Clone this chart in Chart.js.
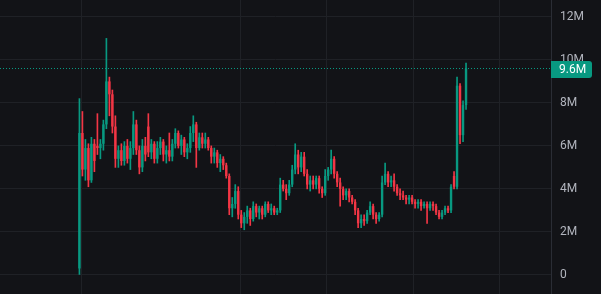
<!DOCTYPE html>
<html>
<head>
<meta charset="utf-8">
<script src="https://cdn.jsdelivr.net/npm/chart.js@4/dist/chart.umd.min.js"></script>
<style>
  html, body { margin: 0; padding: 0; background: #121317; }
  canvas { display: block; }
</style>
</head>
<body>
<canvas id="chart" width="601" height="294"></canvas>
<script>
// candle values, in millions
var opens = [
  0.3, 6.6, 4.9, 5.9, 4.4, 6.1, 6.0, 5.9, 6.1, 7.0,
  9.0, 8.4, 6.9, 5.4, 5.8, 5.3, 6.0, 5.4, 5.9, 7.0,
  5.8, 5.0, 6.0, 6.9, 5.7, 6.1, 5.4, 5.9, 6.2, 5.6,
  5.8, 5.5, 6.1, 6.6, 6.0, 6.3, 5.7, 5.9, 6.6, 7.0,
  5.9, 6.4, 6.1, 6.3, 5.9, 5.5, 5.7, 5.2, 5.4, 5.1,
  4.6, 3.1, 3.3, 3.9, 2.8, 2.4, 2.7, 3.0, 2.6, 3.2,
  2.9, 3.1, 2.8, 3.3, 3.0, 3.1, 2.9, 3.0, 4.2, 4.0,
  3.8, 4.2, 4.9, 5.6, 5.0, 5.5, 4.7, 4.2, 4.4, 4.2,
  4.5, 4.0, 3.8, 4.6, 4.9, 5.4, 4.7, 4.3, 4.0, 3.7,
  3.9, 3.6, 3.4, 3.0, 2.4, 2.6, 2.5, 2.9, 3.2, 2.8,
  2.6, 2.8, 4.3, 4.7, 4.3, 4.4, 4.1, 3.8, 3.7, 3.6,
  3.5, 3.6, 3.4, 3.3, 3.4, 3.2, 3.3, 3.1, 3.3, 3.2,
  2.9, 2.7, 2.9, 3.1, 3.0, 4.6, 4.1, 8.8, 6.5, 7.9
];
var highs = [
  8.2, 7.6, 6.3, 6.1, 6.4, 6.3, 7.5, 6.3, 7.2, 11.0,
  9.2, 8.6, 7.4, 6.0, 6.1, 6.2, 6.3, 6.2, 7.6, 7.2,
  6.0, 6.3, 6.4, 7.5, 6.3, 6.2, 6.2, 6.4, 6.3, 6.0,
  6.6, 6.3, 6.8, 6.7, 6.5, 6.4, 6.1, 6.9, 7.4, 7.1,
  6.6, 6.6, 6.6, 6.4, 6.0, 5.9, 5.8, 5.6, 5.5, 5.2,
  4.7, 3.6, 4.2, 4.1, 3.0, 2.9, 3.2, 3.1, 3.4, 3.3,
  3.2, 3.2, 3.4, 3.4, 3.3, 3.2, 3.1, 4.5, 4.4, 4.2,
  4.4, 5.1, 6.1, 5.8, 5.7, 5.7, 4.9, 4.6, 4.6, 4.6,
  4.6, 4.1, 4.9, 5.0, 5.8, 5.5, 4.8, 4.5, 4.1, 4.0,
  4.0, 3.7, 3.5, 3.1, 2.8, 2.8, 3.0, 3.4, 3.3, 2.9,
  2.9, 4.6, 5.2, 4.8, 4.6, 4.7, 4.2, 4.0, 3.9, 3.7,
  3.7, 3.7, 3.5, 3.5, 3.5, 3.4, 3.4, 3.4, 3.4, 3.3,
  3.0, 3.0, 3.2, 3.2, 4.2, 4.8, 9.2, 8.9, 8.1, 9.85
];
var lows = [
  0.0, 4.6, 4.4, 4.1, 4.3, 4.8, 5.6, 5.4, 5.8, 6.8,
  7.4, 6.6, 5.0, 5.0, 5.1, 5.1, 5.2, 4.9, 5.6, 5.6,
  4.7, 4.8, 5.3, 5.5, 5.4, 5.2, 5.2, 5.6, 5.3, 5.2,
  5.3, 5.3, 5.9, 5.9, 5.6, 5.5, 5.4, 5.7, 6.2, 5.0,
  5.8, 5.9, 5.9, 5.8, 5.2, 5.2, 5.0, 4.8, 4.9, 4.5,
  2.8, 2.7, 3.1, 2.6, 2.2, 2.1, 2.4, 2.3, 2.5, 2.7,
  2.6, 2.6, 2.7, 2.9, 2.8, 2.8, 2.8, 2.9, 3.9, 3.5,
  3.7, 4.1, 4.7, 4.7, 4.8, 4.6, 4.0, 3.9, 4.0, 4.0,
  3.8, 3.6, 3.7, 4.4, 4.7, 4.5, 4.1, 3.2, 3.5, 3.5,
  3.4, 3.3, 2.8, 2.2, 2.2, 2.3, 2.4, 2.8, 2.6, 2.4,
  2.5, 2.7, 4.2, 4.1, 4.1, 3.9, 3.7, 3.5, 3.5, 3.3,
  3.3, 3.3, 3.1, 3.1, 3.0, 3.1, 2.4, 3.0, 3.0, 2.8,
  2.6, 2.6, 2.8, 2.9, 2.9, 4.0, 4.0, 6.1, 6.2, 7.7
];
var closes = [
  6.6, 4.9, 5.9, 4.4, 6.1, 5.3, 5.9, 6.1, 7.0, 9.0,
  8.4, 6.9, 5.4, 5.8, 5.3, 6.0, 5.4, 5.9, 7.0, 5.8,
  5.0, 6.0, 5.6, 5.7, 6.1, 5.4, 5.9, 6.2, 5.6, 5.8,
  5.5, 6.1, 6.6, 6.0, 6.3, 5.7, 5.9, 6.6, 7.0, 5.9,
  6.4, 6.1, 6.3, 5.9, 5.5, 5.7, 5.2, 5.4, 5.1, 4.6,
  3.1, 3.3, 3.9, 2.8, 2.4, 2.7, 3.0, 2.6, 3.2, 2.9,
  3.1, 2.8, 3.3, 3.0, 3.1, 2.9, 3.0, 4.2, 4.0, 3.8,
  4.2, 4.9, 5.6, 5.0, 5.5, 4.7, 4.2, 4.4, 4.2, 4.5,
  4.0, 3.8, 4.6, 4.9, 5.4, 4.7, 4.3, 4.0, 3.7, 3.9,
  3.6, 3.4, 3.0, 2.4, 2.6, 2.5, 2.9, 3.2, 2.8, 2.6,
  2.8, 4.3, 4.7, 4.3, 4.4, 4.1, 3.8, 3.7, 3.6, 3.5,
  3.6, 3.4, 3.3, 3.4, 3.2, 3.3, 3.1, 3.3, 3.2, 2.9,
  2.7, 2.9, 3.1, 3.0, 4.1, 4.1, 8.8, 6.5, 7.9, 9.6
];
var yTicks = [0, 2, 4, 6, 8, 10, 12];
var xGridAt = [0.53, 53.6, 82.6, 111.6, 140.3];

var upColor = '#089981';
var downColor = '#f23645';
var gridColor = '#1f2126';

var xMin = -26.5;
var xMax = 157.35;
var last = closes[closes.length - 1];

var bodies = [];
var wicks = [];
var colors = [];
for (var i = 0; i < closes.length; i++) {
    bodies.push({x: i, y: [opens[i], closes[i]]});
    wicks.push({x: i, y: [lows[i], highs[i]]});
    colors.push(closes[i] >= opens[i] ? upColor : downColor);
}

function noPadding(scale) {
    scale.paddingTop = 0;
    scale.paddingBottom = 0;
    scale.paddingLeft = 0;
    scale.paddingRight = 0;
}

var lastPriceTag = {
    id: 'lastPriceTag',
    afterDraw: function (chart) {
        var ctx = chart.ctx;
        var y = Math.round(chart.scales.y.getPixelForValue(last));
        var left = chart.chartArea.right;
        ctx.save();
        ctx.fillStyle = upColor;
        ctx.beginPath();
        ctx.roundRect(left, y - 8, 41, 17, [0, 3, 3, 0]);
        ctx.fill();
        ctx.fillStyle = '#ffffff';
        ctx.font = '12px Roboto';
        ctx.textBaseline = 'middle';
        ctx.fillText(last.toFixed(1) + 'M', left + 8, y + 1);
        ctx.restore();
    }
};

var ctx = document.getElementById('chart').getContext('2d');
new Chart(ctx, {
    type: 'bar',
    data: {
        datasets: [{
            label: 'body',
            data: bodies,
            backgroundColor: colors,
            grouped: false,
            barPercentage: 0.8,
            categoryPercentage: 1,
            borderWidth: 0
        }, {
            label: 'wick',
            data: wicks,
            backgroundColor: colors,
            grouped: false,
            barThickness: 1,
            borderWidth: 0
        }, {
            type: 'line',
            label: 'last',
            data: [{x: xMin, y: last}, {x: xMax, y: last}],
            borderColor: upColor,
            borderWidth: 1,
            borderDash: [1, 2],
            pointRadius: 0
        }]
    },
    options: {
        responsive: false,
        animation: false,
        layout: {padding: 0},
        plugins: {
            legend: {display: false},
            tooltip: {enabled: false}
        },
        scales: {
            x: {
                type: 'linear',
                min: xMin,
                max: xMax,
                offset: false,
                ticks: {display: false, padding: 0},
                grid: {color: gridColor, drawTicks: false, offset: false},
                border: {display: false},
                afterBuildTicks: function (scale) {
                    scale.ticks = xGridAt.map(function (v) { return {value: v}; });
                },
                afterFit: function (scale) {
                    scale.height = 0;
                    noPadding(scale);
                }
            },
            y: {
                position: 'right',
                min: -0.888,
                max: 12.786,
                ticks: {
                    color: '#b2b5be',
                    padding: 9,
                    font: {family: 'Roboto', size: 12},
                    callback: function (v) { return v === 0 ? '0' : v + 'M'; }
                },
                grid: {color: gridColor, drawTicks: false},
                border: {display: true, color: '#2a2d35'},
                afterBuildTicks: function (scale) {
                    scale.ticks = yTicks.map(function (v) { return {value: v}; });
                },
                afterFit: function (scale) {
                    scale.width = 50;
                    noPadding(scale);
                }
            }
        }
    },
    plugins: [lastPriceTag]
});
</script>
</body>
</html>
